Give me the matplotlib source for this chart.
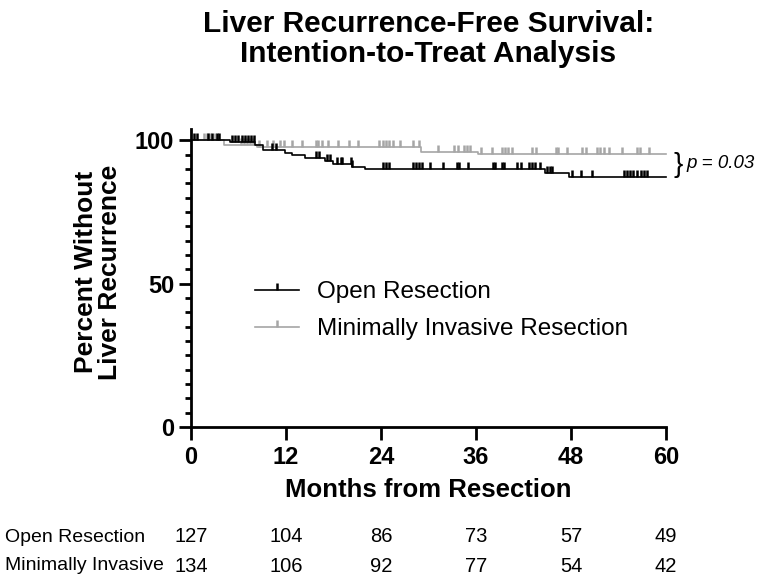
import numpy as np
import matplotlib
matplotlib.use("Agg")
import matplotlib.pyplot as plt
from matplotlib.lines import Line2D
from matplotlib.transforms import blended_transform_factory

plt.rcParams["font.family"] = ["Liberation Sans", "DejaVu Sans"]

# Kaplan-Meier step curves (months, percent without liver recurrence)
open_times = [0, 4.9, 8.1, 9.1, 11.9, 12.7, 14.4, 16.9, 18.0, 20.3, 22.0, 44.7, 47.7, 60]
open_surv = [100, 99.4, 98.3, 96.8, 95.6, 94.8, 93.9, 92.7, 91.8, 90.9, 90.0, 88.8, 87.2, 87.2]

mis_times = [0, 4.2, 8.3, 29.1, 36.3, 60]
mis_surv = [100, 98.5, 97.6, 95.9, 95.1, 95.1]

# censoring times
open_censor = [0.4, 0.8, 2.2, 2.6, 3.3, 3.6, 5.2, 5.6, 6.0, 6.4, 6.8, 7.2, 7.6, 8.0,
               10.2, 10.7, 15.8, 16.2, 17.2, 17.5, 18.5, 18.9, 19.1, 20.2, 20.4,
               24.2, 24.6, 25.0, 28.0, 28.4, 28.8, 29.2, 30.2, 31.9, 33.6, 33.9, 35.0,
               38.1, 38.4, 39.3, 39.6, 41.2, 41.7, 42.7, 43.1, 43.4, 44.1,
               45.0, 45.3, 45.6, 48.1, 49.3, 50.6, 54.7, 55.1, 55.5, 55.8,
               56.4, 56.8, 57.2, 57.6]
mis_censor = [1.6, 2.0, 2.4, 3.0, 6.3, 6.7, 7.1, 7.5, 7.8, 8.6, 9.6, 10.4, 11.3, 11.7,
              12.7, 14.0, 15.8, 16.1, 16.5, 17.3, 18.6, 19.9, 21.1, 23.8, 24.2, 24.6,
              25.0, 25.5, 26.4, 28.0, 28.8, 31.2, 33.2, 33.7, 34.5, 34.9, 35.2,
              36.7, 38.0, 39.3, 39.7, 40.1, 40.6, 43.1, 43.6, 46.1, 46.4, 47.5,
              49.4, 49.9, 51.3, 51.7, 52.2, 52.8, 54.4, 56.4, 56.7, 57.8]

# number at risk table
risk_months = [0, 12, 24, 36, 48, 60]
open_at_risk = [127, 104, 86, 73, 57, 49]
mis_at_risk = [134, 106, 92, 77, 54, 42]

black = "#000000"
gray = "#a6a6a6"


def surv_at(times, surv, t):
    idx = np.searchsorted(times, t, side="right") - 1
    return np.array(surv)[idx]


fig = plt.figure(figsize=(7.59, 5.85), dpi=100)
ax = fig.add_axes([0.2516, 0.2701, 0.6258, 0.5094])

ax.step(mis_times, mis_surv, where="post", color=gray, lw=1.2, clip_on=False, zorder=2)
ax.plot(mis_censor, surv_at(mis_times, mis_surv, mis_censor), linestyle="none",
        marker=2, markersize=5, markeredgewidth=1.8, color=gray, clip_on=False, zorder=2)
ax.step(open_times, open_surv, where="post", color=black, lw=1.2, clip_on=False, zorder=3)
ax.plot(open_censor, surv_at(open_times, open_surv, open_censor), linestyle="none",
        marker=2, markersize=5, markeredgewidth=1.8, color=black, clip_on=False, zorder=3)

ax.set_xlim(0, 60)
ax.set_ylim(0, 104)
ax.spines["top"].set_visible(False)
ax.spines["right"].set_visible(False)
for s in ["left", "bottom"]:
    ax.spines[s].set_linewidth(2.0)

ax.set_xticks(risk_months)
ax.set_yticks([0, 50, 100])
ax.set_yticks(np.arange(0, 101, 5), minor=True)
ax.tick_params(axis="both", which="major", direction="out", length=9, width=2.0,
               labelsize=17)
ax.tick_params(axis="x", which="major", pad=5)
ax.tick_params(axis="y", which="major", pad=3)
ax.tick_params(axis="y", which="minor", direction="out", length=4, width=2.0)
for lab in ax.get_xticklabels() + ax.get_yticklabels():
    lab.set_fontweight("bold")

ax.set_xlabel("Months from Resection", fontsize=18.5, fontweight="bold", labelpad=6)
fig.text(98 / 759, 1 - 272 / 585, "Percent Without\nLiver Recurrence", rotation=90,
         ha="center", va="center", fontsize=19, fontweight="bold", linespacing=1.05)

fig.text(428.5 / 759, 1 - 24 / 585, "Liver Recurrence-Free Survival:", ha="center",
         va="center", fontsize=21.5, fontweight="bold")
fig.text(428.5 / 759, 1 - 54 / 585, "Intention-to-Treat Analysis", ha="center",
         va="center", fontsize=21.5, fontweight="bold")

handles = [
    Line2D([], [], color=black, lw=1.2, marker=2, markersize=5, markeredgewidth=1.8),
    Line2D([], [], color=gray, lw=1.2, marker=2, markersize=5, markeredgewidth=1.8),
]
ax.legend(handles, ["Open Resection", "Minimally Invasive Resection"], loc="center left",
          bbox_to_anchor=(0.135, 0.39), frameon=False, fontsize=17.5, handlelength=1.8,
          handletextpad=0.75, labelspacing=0.62, numpoints=1, borderpad=0, borderaxespad=0)

# p value bracket
ax.text(60.9, 91.6, "}", ha="left", va="center", fontsize=20, fontweight="light",
        clip_on=False)
ax.text(62.6, 91.9, "p = 0.03", ha="left", va="center", fontsize=13.5,
        style="italic", clip_on=False)

# number at risk
trans = blended_transform_factory(ax.transData, fig.transFigure)
fig.text(5 / 759, 1 - 537 / 585, "Open Resection", ha="left", va="center", fontsize=14)
fig.text(5 / 759, 1 - 566 / 585, "Minimally Invasive", ha="left", va="center", fontsize=14)
for m, a, b in zip(risk_months, open_at_risk, mis_at_risk):
    ax.text(m, 1 - 537 / 585, str(a), transform=trans, ha="center", va="center", fontsize=14.5)
    ax.text(m, 1 - 566 / 585, str(b), transform=trans, ha="center", va="center", fontsize=14.5)

fig.savefig("out.png", dpi=100)
